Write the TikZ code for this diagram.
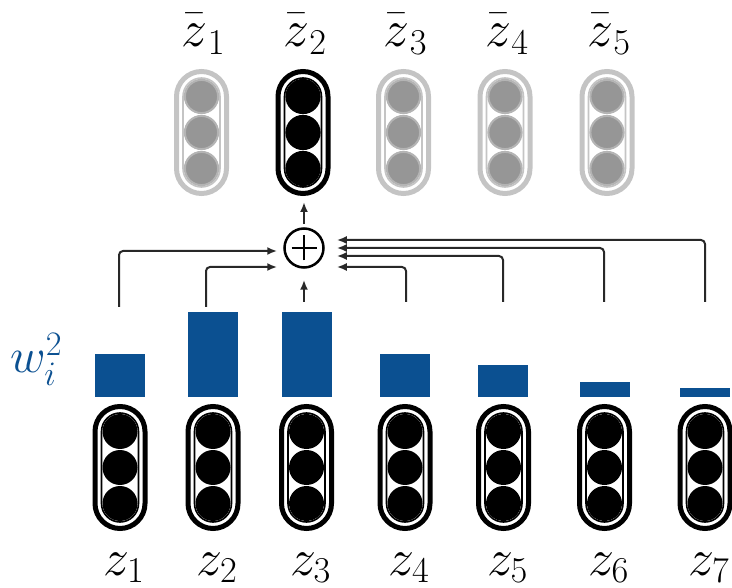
\RequirePackage{fix-cm}
\documentclass[tikz,border=0pt]{standalone}
\usetikzlibrary{arrows.meta}

\definecolor{barblue}{RGB}{11,80,145}
\definecolor{ringgray}{RGB}{196,196,196}
\definecolor{dotgray}{RGB}{150,150,150}
\definecolor{dotrim}{RGB}{180,180,180}
\definecolor{wirecol}{RGB}{40,40,40}

\tikzset{
	vec/.style={draw, rectangle, rounded corners=25pt, line width=5pt, minimum width=50pt, minimum height=122pt, inner sep=0pt},
	vecin/.style={draw, rectangle, rounded corners=18.5pt, line width=1.6pt, minimum width=37pt, minimum height=109pt, inner sep=0pt},
	bar/.style={fill=barblue, minimum width=50pt, inner sep=0pt, anchor=south},
	lab/.style={anchor=base, inner sep=0pt, font=\fontsize{52}{56}\selectfont},
	wire/.style={draw=wirecol, line width=2pt, rounded corners=4pt, -{Latex[length=10pt,width=8pt]}},
	sum/.style={circle, draw, line width=2.5pt, minimum size=39pt, inner sep=0pt,
		path picture={\draw[line width=2.5pt] (path picture bounding box.center) ++(-12.5pt,0) -- ++(25pt,0)
			(path picture bounding box.center) ++(0,-12.5pt) -- ++(0,25pt);}}
}

\begin{document}
\begin{tikzpicture}[x=1pt, y=-1pt]
	\useasboundingbox (0,0) rectangle (732,588);

	% output vectors, only the second one is selected
	\foreach \x/\i/\col/\dot/\rim in {201.5/1/ringgray/dotgray/dotrim, 303/2/black/black/black, 403.5/3/ringgray/dotgray/dotrim, 505/4/ringgray/dotgray/dotrim, 607/5/ringgray/dotgray/dotrim} {
		\node [vec, draw=\col] (zb\i) at (\x,132.5) {};
		\node [vecin, draw=\col] (zbin\i) at (\x,132.5) {};
		\foreach \k in {-1,0,1}
			\filldraw [fill=\dot, draw=\rim, line width=2pt] (\x,132.5+36*\k) circle (16.6pt);
		\node [lab] (lzb\i) at (\x+2,47) {$\bar{z\rule{0pt}{0.52em}}_{\i}$};
	}

	% input vectors
	\foreach \x [count=\i] in {120,213,306.5,405,503.5,604.5,705} {
		\node [vec] (z\i) at (\x,467.5) {};
		\node [vecin] (zin\i) at (\x,467.5) {};
		\foreach \k in {-1,0,1}
			\fill (\x,467.5+36*\k) circle (17.5pt);
		\node [lab] (lz\i) at (\x+4,575) {$z_{\i}$};
	}

	% squared weights
	\foreach \x/\h [count=\i] in {120/43, 213/85.5, 306.5/85.5, 405/43, 503/32, 604.5/15.5, 705/9.5}
		\node [bar, minimum height=\h pt] (b\i) at (\x,397.5) {};
	\node [lab, anchor=base west, text=barblue, font=\fontsize{49}{53}\selectfont] (w) at (10,373) {$w_i^2$};

	% weighted sum
	\node [sum] (sum) at (304,248) {};

	\coordinate (t1) at (119,307);
	\coordinate (t2) at (206,307);
	\coordinate (t3) at (304,302);
	\coordinate (t4) at (406,302);
	\coordinate (t5) at (503,302);
	\coordinate (t6) at (604,302);
	\coordinate (t7) at (705,302);

	\draw [wire] (t1) |- ([xshift=-6pt,yshift=-3pt]sum.west);
	\draw [wire] (t2) |- ([xshift=-6pt,yshift=-19pt]sum.west);
	\draw [wire] (t3) -- ([yshift=-11pt]sum.south);
	\draw [wire] (t4) |- ([xshift=12pt,yshift=-19pt]sum.east);
	\draw [wire] (t5) |- ([xshift=12pt,yshift=-8pt]sum.east);
	\draw [wire] (t6) |- ([xshift=12pt]sum.east);
	\draw [wire] (t7) |- ([xshift=12pt,yshift=8pt]sum.east);
	\draw [wire] ([yshift=3pt]sum.north) -- ([yshift=-6pt]sum.north |- zb2.south);
\end{tikzpicture}
\end{document}
